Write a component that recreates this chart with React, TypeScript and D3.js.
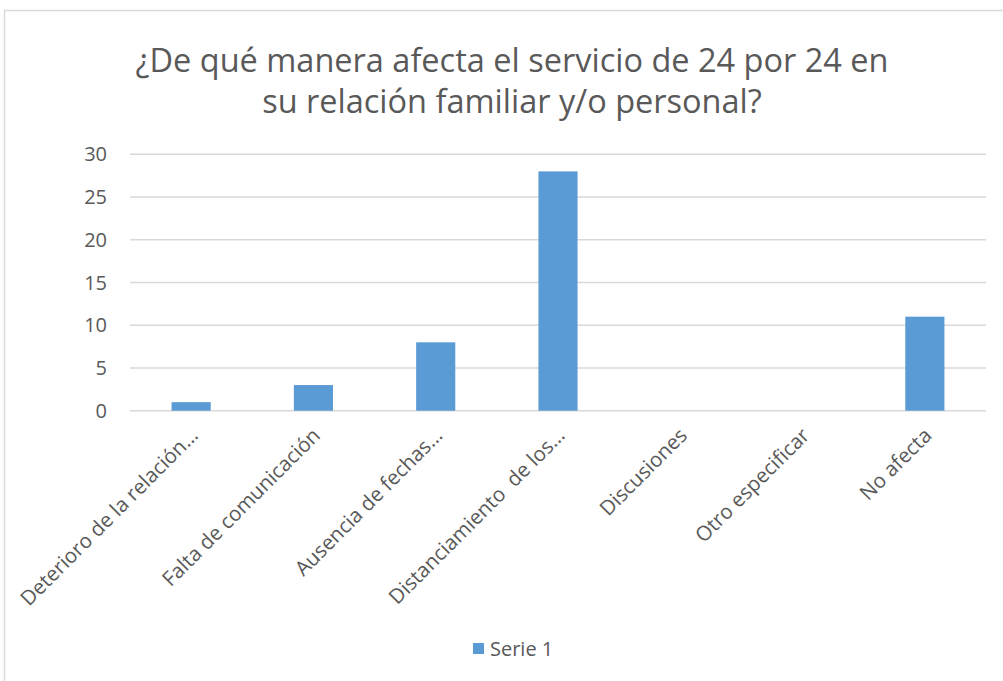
import React from "react";
import * as d3 from "d3";

const categories = [
  "Deterioro de la relación…",
  "Falta de comunicación",
  "Ausencia de fechas…",
  "Distanciamiento  de los…",
  "Discusiones",
  "Otro especificar",
  "No afecta",
];
const serie1 = [1, 3, 8, 28, 0, 0, 11];
const yTicks = [0, 5, 10, 15, 20, 25, 30];
const titleLines = [
  "¿De qué manera afecta el servicio de 24 por 24 en",
  "su relación familiar y/o personal?",
];
const seriesName = "Serie 1";

const W = 1003;
const H = 681;
const font = "'Open Sans', 'Noto Sans', sans-serif";
const textColor = "#595959";

export default function App() {
  const left = 130;
  const right = 986;
  const top = 154.3;
  const bottom = 410.7;

  const x = d3
    .scaleBand<string>()
    .domain(categories)
    .range([left, right])
    .paddingInner(0.68)
    .paddingOuter(0.34);
  const y = d3.scaleLinear().domain([0, 30]).range([bottom, top]);

  return (
    <div style={{ position: "absolute", left: 0, top: 0 }}>
      <svg width={W} height={H} style={{ display: "block" }}>
        <rect x={0} y={0} width={W} height={H} fill="#fff" />
        <rect x={4.5} y={10.5} width={W + 10} height={H + 10} fill="#fff" stroke="#D9D9D9" strokeWidth={1.5} />
        {titleLines.map((t, i) => (
          <text
            key={i}
            x={512}
            y={72 + i * 41}
            textAnchor="middle"
            fontFamily={font}
            fontSize={32.5}
            fill={textColor}
          >
            {t}
          </text>
        ))}
        {yTicks.map((t) => (
          <g key={t}>
            <line x1={left} x2={right} y1={y(t)} y2={y(t)} stroke="#D9D9D9" strokeWidth={1.5} />
            <text
              x={107}
              y={y(t)}
              dy="0.35em"
              textAnchor="end"
              fontFamily={font}
              fontSize={20}
              fill={textColor}
            >
              {t}
            </text>
          </g>
        ))}
        {categories.map((c, i) => (
          <rect
            key={c}
            x={x(c)}
            y={y(serie1[i])}
            width={x.bandwidth()}
            height={y(0) - y(serie1[i])}
            fill="#5B9BD5"
          />
        ))}
        {categories.map((c) => {
          const cx = (x(c) as number) + x.bandwidth() / 2;
          return (
            <text
              key={c}
              transform={`translate(${cx + 3},${bottom + 21}) rotate(-45)`}
              textAnchor="end"
              dy="0.35em"
              fontFamily={font}
              fontSize={20.5}
              fill={textColor}
              style={{ whiteSpace: "pre" }}
            >
              {c}
            </text>
          );
        })}
        <rect x={473} y={643} width={11} height={11} fill="#5B9BD5" />
        <text x={490} y={649} dy="0.35em" fontFamily={font} fontSize={20} fill={textColor}>
          {seriesName}
        </text>
      </svg>
    </div>
  );
}
